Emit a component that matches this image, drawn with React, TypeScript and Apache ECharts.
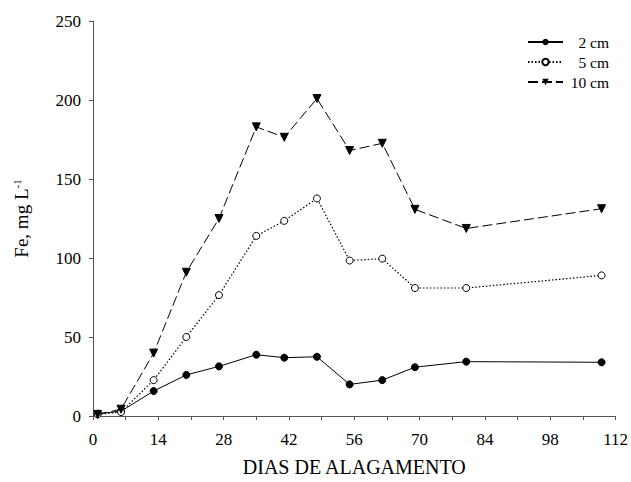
import React, { useEffect, useRef } from "react";
import * as echarts from "echarts";

const days = [1, 6, 13, 20, 27, 35, 41, 48, 55, 62, 69, 80, 109];
const fe2cm = [1.5, 3, 15.8, 26, 31.4, 38.8, 36.9, 37.5, 20, 22.7, 30.9, 34.4, 34];
const fe5cm = [1, 2.5, 22.7, 50, 76.5, 114, 123.5, 137.7, 98.4, 99.6, 81, 81, 89];
const fe10cm = [1, 4.3, 39.8, 91, 125, 183, 176.4, 200.9, 168, 172.6, 130.8, 118.7, 131.2];
const xTicks = [0, 14, 28, 42, 56, 70, 84, 98, 112];
const seriesNames = ["2 cm", "5 cm", "10 cm"];

const FONT = "Liberation Serif";

export default function App() {
  const ref = useRef<HTMLDivElement>(null);
  useEffect(() => {
    if (!ref.current) return;
    const chart = echarts.init(ref.current, null, { renderer: "svg" });
    const pair = (ys: number[]) => days.map((d, i) => [d, ys[i]]);
    chart.setOption({
      animation: false,
      backgroundColor: "#fff",
      grid: { left: 93, right: 14, top: 21, bottom: 61.5 },
      legend: {
        right: 17,
        top: 29,
        orient: "vertical",
        itemWidth: 35,
        itemHeight: 8,
        itemGap: 4,
        data: seriesNames,
        formatter: (n: string) => "{a|" + n + "}",
        textStyle: {
          fontFamily: FONT,
          fontSize: 15.5,
          color: "#000",
          rich: {
            a: { width: 41, align: "right", lineHeight: 17, fontFamily: FONT, fontSize: 15.5, color: "#000" },
          },
        },
      },
      xAxis: {
        type: "value",
        min: 0,
        max: 112,
        interval: 7,
        name: "DIAS DE ALAGAMENTO",
        nameLocation: "middle",
        nameGap: 41,
        nameTextStyle: { fontFamily: FONT, fontSize: 20, color: "#000" },
        axisLine: { lineStyle: { color: "#555", width: 1 } },
        axisTick: { length: 4, lineStyle: { color: "#555" } },
        splitLine: { show: false },
        axisLabel: {
          fontFamily: FONT,
          fontSize: 17,
          color: "#000",
          margin: 15,
          formatter: (v: number) => (xTicks.includes(v) ? String(v) : ""),
        },
      },
      yAxis: {
        type: "value",
        min: 0,
        max: 250,
        interval: 50,
        name: "{a|Fe, mg L}{s|-1}",
        nameLocation: "middle",
        nameGap: 62,
        nameTextStyle: {
          fontFamily: FONT,
          fontSize: 19,
          color: "#000",
          rich: {
            a: { fontFamily: FONT, fontSize: 19, color: "#000" },
            s: { fontFamily: FONT, fontSize: 11, color: "#000", verticalAlign: "top", padding: [0, 0, 9, 0] },
          },
        },
        axisLine: { show: true, lineStyle: { color: "#555", width: 1 } },
        axisTick: { show: true, length: 4, lineStyle: { color: "#555" } },
        splitLine: { show: false },
        axisLabel: { fontFamily: FONT, fontSize: 17, color: "#000", margin: 12 },
      },
      series: [
        {
          name: seriesNames[0],
          type: "line",
          data: pair(fe2cm),
          symbol: "circle",
          symbolSize: 7,
          itemStyle: { color: "#000", borderColor: "#000" },
          lineStyle: { color: "#000", width: 1, type: "solid" },
          z: 3,
        },
        {
          name: seriesNames[1],
          type: "line",
          data: pair(fe5cm),
          symbol: "circle",
          symbolSize: 7,
          itemStyle: { color: "#fff", borderColor: "#000", borderWidth: 1 },
          lineStyle: { color: "#000", width: 1.2, type: [1.5, 2] },
          z: 4,
        },
        {
          name: seriesNames[2],
          type: "line",
          data: pair(fe10cm),
          symbol: "triangle",
          symbolRotate: 180,
          symbolSize: 8,
          itemStyle: { color: "#000", borderColor: "#000" },
          lineStyle: { color: "#000", width: 1, type: [10, 4] },
          z: 5,
        },
      ],
    });
    return () => chart.dispose();
  }, []);
  return (
    <div
      ref={ref}
      style={{ position: "absolute", left: 0, top: 0, width: 631, height: 482 }}
    />
  );
}
